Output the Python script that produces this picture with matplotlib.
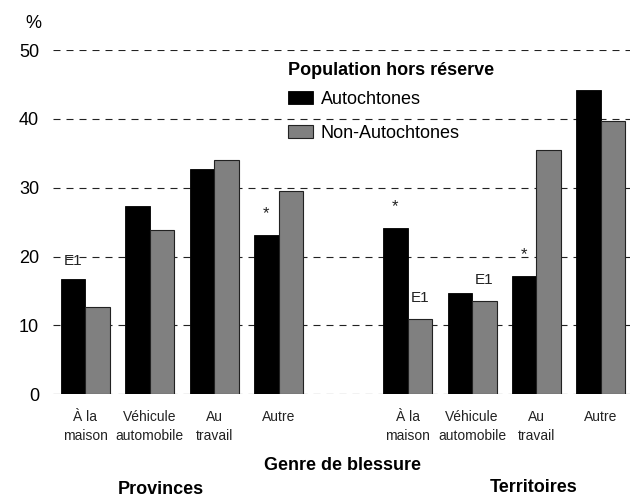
import numpy as np
import matplotlib.pyplot as plt

plt.rcParams['font.family'] = ['Liberation Sans', 'DejaVu Sans']

# Données
categories = ['À la\nmaison', 'Véhicule\nautomobile', 'Au\ntravail', 'Autre']
positions = [0, 1, 2, 3, 5, 6, 7, 8]
labels = categories + categories
autochtones = [16.8, 27.4, 32.7, 23.2, 24.1, 14.7, 17.2, 44.2]
non_autochtones = [12.7, 23.8, 34.0, 29.5, 11.0, 13.6, 35.5, 39.7]

# annotations (indice : texte)
notes_auto = {0: 'E1', 3: '*', 4: '*', 6: '*'}
notes_non = {4: 'E1', 5: 'E1'}

fig = plt.figure(figsize=(6.34, 5.01), dpi=100)
ax = fig.add_axes([0.0836, 0.213, 0.91, 0.687])

x = np.array(positions)
w = 0.38
ax.bar(x - w / 2, autochtones, w, color='black', edgecolor='black', linewidth=0.6,
       label='Autochtones', zorder=2)
ax.bar(x + w / 2, non_autochtones, w, color='#808080', edgecolor='#222222', linewidth=0.8,
       label='Non-Autochtones', zorder=2)

for i, t in notes_auto.items():
    ax.text(x[i] - w / 2, autochtones[i] + (1.6 if t == 'E1' else 2.0), t, ha='center',
            va='bottom', fontsize=11 if t == 'E1' else 12, color='#222222', zorder=3)
for i, t in notes_non.items():
    ax.text(x[i] + w / 2, non_autochtones[i] + 2.0, t, ha='center', va='bottom',
            fontsize=11, color='#222222', zorder=3)

ax.set_xlim(-0.5, 8.45)
ax.set_ylim(0, 50)
ax.set_yticks([0, 10, 20, 30, 40, 50])
ax.set_xticks(positions)
ax.set_xticklabels(labels, fontsize=10, color='#222222', linespacing=1.45)
ax.tick_params(axis='both', length=0)
ax.tick_params(axis='y', labelsize=13, pad=10)
ax.tick_params(axis='x', pad=11)
for s in ax.spines.values():
    s.set_visible(False)
ax.yaxis.grid(True, color='#222222', linewidth=0.8, linestyle=(0, (6.3, 5.4)), zorder=0)
ax.set_axisbelow(True)

leg = ax.legend(loc='upper left', bbox_to_anchor=(0.395, 0.985), frameon=False,
                title='Population hors réserve', fontsize=13, handlelength=1.4,
                handleheight=0.75, handletextpad=0.4, labelspacing=0.95, borderaxespad=0)
leg.get_title().set_fontsize(13)
leg.get_title().set_fontweight('bold')
leg._legend_box.align = 'left'
leg._legend_box.sep = 8

fig.text(25 / 634, 1 - 23 / 501, '%', fontsize=13, ha='left', va='center')
fig.text(343 / 634, 1 - 465 / 501, 'Genre de blessure', fontsize=13, fontweight='bold',
         ha='center', va='center')
fig.text(161 / 634, 1 - 490 / 501, 'Provinces', fontsize=13, fontweight='bold',
         ha='center', va='center')
fig.text(534 / 634, 1 - 488 / 501, 'Territoires', fontsize=13, fontweight='bold',
         ha='center', va='center')

plt.savefig('out.png', dpi=100)
